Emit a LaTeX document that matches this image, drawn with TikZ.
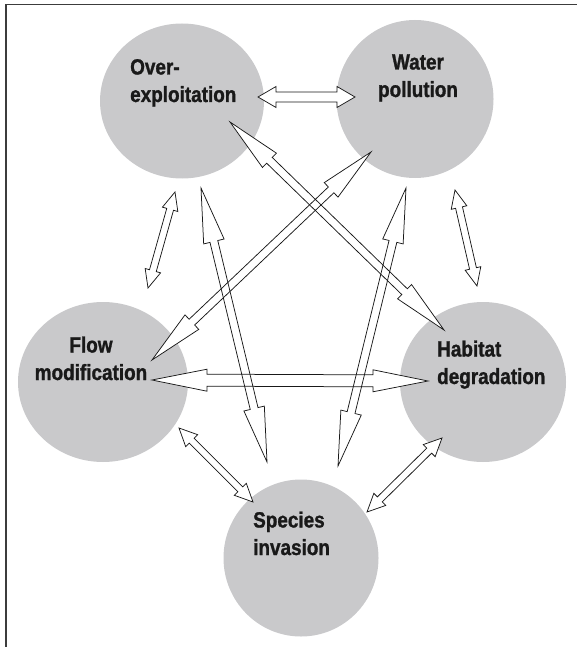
\documentclass[tikz,border=0pt]{standalone}
\usepackage{fontspec}
\usetikzlibrary{calc,shapes.geometric}
\newfontfamily\lblfont{Liberation Sans}[FakeStretch=0.86,BoldFeatures={FakeBold=1.2}]
\definecolor{blobgray}{RGB}{201,201,203}
\definecolor{inkgray}{RGB}{25,25,25}
\definecolor{framegray}{RGB}{60,60,60}
% double-headed hollow arrow outline: #1 tip A, #2 tip B, #3 head length, #4 head half-width, #5 shaft half-width
\newcommand\dblarr[5]{(#1) -- ($(#1)!#3!(#2)!#4!90:(#2)$) -- ($(#1)!#3!(#2)!#5!90:(#2)$) -- ($(#2)!#3!(#1)!#5!-90:(#1)$) -- ($(#2)!#3!(#1)!#4!-90:(#1)$) -- (#2) -- ($(#2)!#3!(#1)!#4!90:(#1)$) -- ($(#2)!#3!(#1)!#5!90:(#1)$) -- ($(#1)!#3!(#2)!#5!-90:(#2)$) -- ($(#1)!#3!(#2)!#4!-90:(#2)$) -- cycle}
\begin{document}
\begin{tikzpicture}[x=1pt,y=-1pt,
  blob/.style={ellipse,fill=blobgray,draw=none,inner sep=0pt},
  lbl/.style={font=\lblfont\bfseries\fontsize{22}{27.5}\selectfont,text=inkgray,inner sep=0pt},
  arrline/.style={draw=inkgray,line width=0.75pt,line join=miter},
  arrfill/.style={fill=white}]
\useasboundingbox (0,0) rectangle (577,647);
% frame
\draw[framegray,line width=1.6pt] (577,4.5) -- (6,4.5) -- (6,647);
% circles
\node[blob,minimum width=164pt,minimum height=155pt] (oe) at (182,101) {};
\node[blob,minimum width=157pt,minimum height=158pt] (wp) at (415,99) {};
\node[blob,minimum width=170pt,minimum height=160pt] (fm) at (103,382) {};
\node[blob,minimum width=166pt,minimum height=160pt] (hd) at (483,382) {};
\node[blob,minimum width=155pt,minimum height=157pt] (si) at (301,558) {};
% labels (anchor base = baseline of the last line)
\node[lbl,align=left,anchor=base west] (oet) at (130,102) {Over-\\exploitation};
\node[lbl,align=center,anchor=base] (wpt) at (418,97) {Water\\pollution};
\node[lbl,align=center,anchor=base] (fmt) at (91,380) {Flow\\modification};
\node[lbl,align=left,anchor=base west] (hdt) at (437,384) {Habitat\\degradation};
\node[lbl,align=left,anchor=base west] (sit) at (253,555) {Species\\invasion};
% arrow tips
\coordinate (oe-wp) at ($(oe)+(76,-4)$);
\coordinate (oe-hd) at ($(oe)+(48,21)$);
\coordinate (oe-fm) at ($(oe)+(-7,91)$);
\coordinate (oe-si) at ($(oe)+(19,87)$);
\coordinate (wp-oe) at ($(wp)+(-60,-2)$);
\coordinate (wp-fm) at ($(wp)+(-44,53)$);
\coordinate (wp-si) at ($(wp)+(-9,89)$);
\coordinate (wp-hd) at ($(wp)+(40,91)$);
\coordinate (fm-wp) at ($(fm)+(49,-22)$);
\coordinate (fm-oe) at ($(fm)+(45,-94)$);
\coordinate (fm-hd) at ($(fm)+(49,-2)$);
\coordinate (fm-si) at ($(fm)+(76,46)$);
\coordinate (hd-oe) at ($(hd)+(-39,-52)$);
\coordinate (hd-wp) at ($(hd)+(-6,-96)$);
\coordinate (hd-fm) at ($(hd)+(-55,-1)$);
\coordinate (hd-si) at ($(hd)+(-41,56)$);
\coordinate (si-oe) at ($(si)+(-34,-96)$);
\coordinate (si-wp) at ($(si)+(37,-92)$);
\coordinate (si-fm) at ($(si)+(-48,-56)$);
\coordinate (si-hd) at ($(si)+(66,-46)$);
% arrows: fill pass
\foreach \a/\b/\L/\H/\S in {oe-wp/wp-oe/18/10.5/5,
  oe-hd/hd-oe/55/10/4, wp-fm/fm-wp/55/10/4,
  oe-si/si-oe/55/10.5/4, wp-si/si-wp/55/10.5/4,
  fm-hd/hd-fm/55/11/6,
  oe-fm/fm-oe/18/8/3.5, wp-hd/hd-wp/18/8/3.5,
  fm-si/si-fm/18/8.5/3.5, hd-si/si-hd/18/8.5/3.5}{
  \fill[arrfill] \dblarr{\a}{\b}{\L pt}{\H pt}{\S pt};
}
% arrows: outline pass
\foreach \a/\b/\L/\H/\S in {oe-wp/wp-oe/18/10.5/5,
  oe-hd/hd-oe/55/10/4, wp-fm/fm-wp/55/10/4,
  oe-si/si-oe/55/10.5/4, wp-si/si-wp/55/10.5/4,
  fm-hd/hd-fm/55/11/6,
  oe-fm/fm-oe/18/8/3.5, wp-hd/hd-wp/18/8/3.5,
  fm-si/si-fm/18/8.5/3.5, hd-si/si-hd/18/8.5/3.5}{
  \draw[arrline] \dblarr{\a}{\b}{\L pt}{\H pt}{\S pt};
}
\end{tikzpicture}
\end{document}
